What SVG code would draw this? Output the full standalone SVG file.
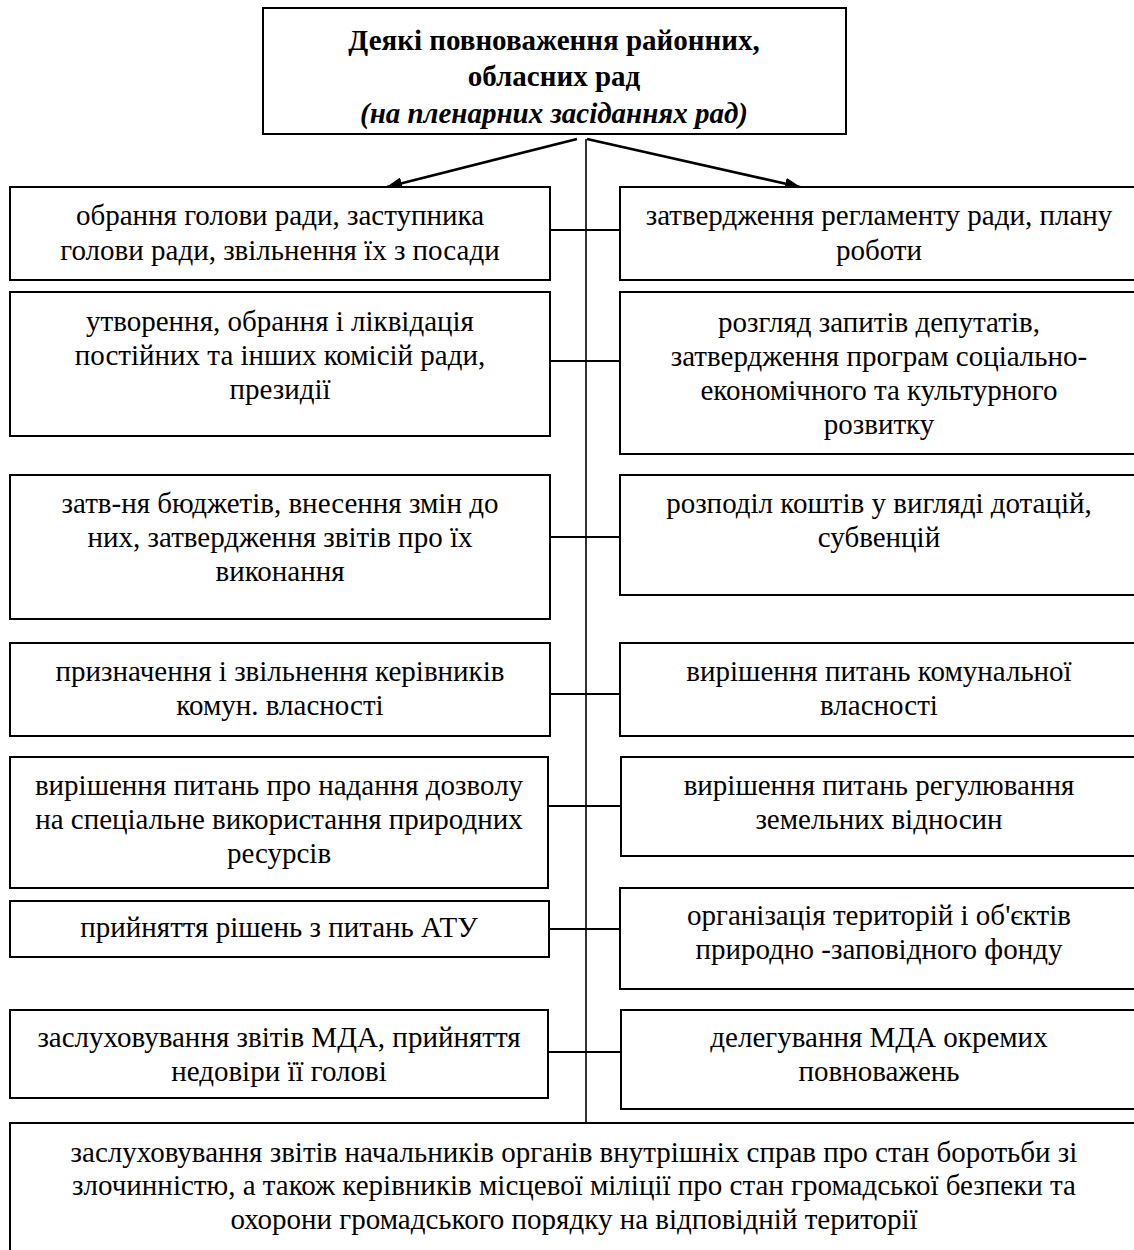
<svg xmlns="http://www.w3.org/2000/svg" width="1134" height="1250" viewBox="0 0 1134 1250">
<style>
.box{fill:#fff;stroke:#000;stroke-width:2}
.t{font-family:"Liberation Serif","Times New Roman",serif;font-size:29px;text-anchor:middle;fill:#000}
.b{font-weight:bold}
.i{font-style:italic}
.ln{stroke:#000;stroke-width:2;fill:none}
.ar{stroke:#000;stroke-width:2.6;fill:none}
.vl{stroke:#000;stroke-width:1.6;fill:none}
</style>
<defs>
<marker id="ah" viewBox="0 0 16 12" refX="15" refY="6" markerWidth="16" markerHeight="12" markerUnits="userSpaceOnUse" orient="auto">
<path d="M0,0 L16,6 L0,12 z" fill="#000"/>
</marker>
</defs>
<rect x="0" y="0" width="1134" height="1250" fill="#fff"/>

<g id="connectors">
<line class="vl" x1="586" y1="139" x2="586" y2="1123"/>
<line class="ar" x1="577" y1="139" x2="387" y2="187" marker-end="url(#ah)"/>
<line class="ar" x1="587" y1="139" x2="800" y2="187" marker-end="url(#ah)"/>
<line class="ln" x1="550" y1="230" x2="620" y2="230"/>
<line class="ln" x1="550" y1="361" x2="621" y2="361"/>
<line class="ln" x1="550" y1="537" x2="621" y2="537"/>
<line class="ln" x1="547" y1="694" x2="620" y2="694"/>
<line class="ln" x1="548" y1="806" x2="621" y2="806"/>
<line class="ln" x1="549" y1="929" x2="621" y2="929"/>
<line class="ln" x1="548" y1="1052" x2="621" y2="1052"/>
</g>

<g id="title">
<rect class="box" x="263" y="8" width="583" height="126"/>
<text class="t b" x="554" y="50">Деякі повноваження районних,</text>
<text class="t b" x="554" y="86">обласних рад</text>
<text class="t b i" x="554" y="123">(на пленарних засіданнях рад)</text>
</g>

<g id="l1">
<rect class="box" x="10" y="187" width="540" height="93"/>
<text class="t" x="280" y="225">обрання голови ради, заступника</text>
<text class="t" x="280" y="260">голови ради, звільнення їх з посади</text>
</g>
<g id="l2">
<rect class="box" x="10" y="292" width="540" height="144"/>
<text class="t" x="280" y="331">утворення, обрання і ліквідація</text>
<text class="t" x="280" y="365">постійних та інших комісій ради,</text>
<text class="t" x="280" y="399">президії</text>
</g>
<g id="l3">
<rect class="box" x="10" y="475" width="540" height="144"/>
<text class="t" x="280" y="513">затв-ня бюджетів, внесення змін до</text>
<text class="t" x="280" y="547">них, затвердження звітів про їх</text>
<text class="t" x="280" y="581">виконання</text>
</g>
<g id="l4">
<rect class="box" x="10" y="643" width="540" height="93"/>
<text class="t" x="280" y="681">призначення і звільнення керівників</text>
<text class="t" x="280" y="715">комун. власності</text>
</g>
<g id="l5">
<rect class="box" x="10" y="757" width="538" height="131"/>
<text class="t" x="279" y="795">вирішення питань про надання дозволу</text>
<text class="t" x="279" y="829">на спеціальне використання природних</text>
<text class="t" x="279" y="863">ресурсів</text>
</g>
<g id="l6">
<rect class="box" x="10" y="901" width="539" height="56"/>
<text class="t" x="279" y="937">прийняття рішень з питань АТУ</text>
</g>
<g id="l7">
<rect class="box" x="10" y="1010" width="538" height="88"/>
<text class="t" x="279" y="1047">заслуховування звітів МДА, прийняття</text>
<text class="t" x="279" y="1081">недовіри її голові</text>
</g>

<g id="r1">
<rect class="box" x="620" y="187" width="520" height="93"/>
<text class="t" x="879" y="225">затвердження регламенту ради, плану</text>
<text class="t" x="879" y="260">роботи</text>
</g>
<g id="r2">
<rect class="box" x="620" y="292" width="520" height="162"/>
<text class="t" x="879" y="332">розгляд запитів депутатів,</text>
<text class="t" x="879" y="366">затвердження програм соціально-</text>
<text class="t" x="879" y="400">економічного та культурного</text>
<text class="t" x="879" y="434">розвитку</text>
</g>
<g id="r3">
<rect class="box" x="620" y="475" width="520" height="120"/>
<text class="t" x="879" y="513">розподіл коштів у вигляді дотацій,</text>
<text class="t" x="879" y="547">субвенцій</text>
</g>
<g id="r4">
<rect class="box" x="620" y="643" width="520" height="93"/>
<text class="t" x="879" y="681">вирішення питань комунальної</text>
<text class="t" x="879" y="715">власності</text>
</g>
<g id="r5">
<rect class="box" x="621" y="757" width="519" height="99"/>
<text class="t" x="879" y="795">вирішення питань регулювання</text>
<text class="t" x="879" y="829">земельних відносин</text>
</g>
<g id="r6">
<rect class="box" x="620" y="888" width="520" height="101"/>
<text class="t" x="879" y="925">організація територій і об'єктів</text>
<text class="t" x="879" y="959">природно -заповідного фонду</text>
</g>
<g id="r7">
<rect class="box" x="621" y="1010" width="519" height="99"/>
<text class="t" x="879" y="1047">делегування МДА окремих</text>
<text class="t" x="879" y="1081">повноважень</text>
</g>

<g id="bottom">
<rect class="box" x="10" y="1123" width="1130" height="140"/>
<text class="t" x="574" y="1162">заслуховування звітів начальників органів внутрішніх справ про стан боротьби зі</text>
<text class="t" x="574" y="1195">злочинністю, а також керівників місцевої міліції про стан громадської безпеки та</text>
<text class="t" x="574" y="1229">охорони громадського порядку на відповідній території</text>
</g>
</svg>
